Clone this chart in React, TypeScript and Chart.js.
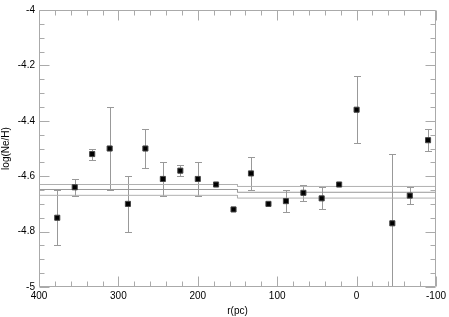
import React, { useEffect, useRef } from "react";
import { Chart, registerables } from "chart.js";

Chart.register(...registerables);

const rValues = [377, 355, 333, 311, 288, 266, 244, 222, 200, 177, 155, 133, 111, 89, 67, 44, 22, 0, -45, -67, -90];
const logValues = [-4.75, -4.64, -4.52, -4.5, -4.7, -4.5, -4.61, -4.58, -4.61, -4.63, -4.72, -4.59, -4.7, -4.69, -4.66, -4.68, -4.63, -4.36, -4.77, -4.67, -4.47];
const logErrors = [0.1, 0.03, 0.02, 0.15, 0.1, 0.07, 0.06, 0.02, 0.06, 0, 0, 0.06, 0, 0.04, 0.03, 0.04, 0, 0.12, 0.25, 0.03, 0.04];

const fitX = [400, 150, 150, -100];
const fitMid = [-4.648, -4.648, -4.658, -4.658];
const fitUpper = [-4.63, -4.63, -4.637, -4.637];
const fitLower = [-4.669, -4.669, -4.679, -4.679];

const xMajorTicks = [400, 300, 200, 100, 0, -100];
const xMinorStep = 20;
const yMajorTicks = [-5, -4.8, -4.6, -4.4, -4.2, -4];
const yMinorStep = 0.05;

const AXIS_COLOR = "#aaaaaa";
const FONT = "'Liberation Sans', Arial, sans-serif";

const frameAndErrors = {
  id: "frameAndErrors",
  beforeDatasetsDraw(chart: any) {
    const { ctx, chartArea: a, scales } = chart;
    const xs = scales.x;
    const ys = scales.y;
    ctx.save();
    ctx.beginPath();
    ctx.rect(a.left, a.top, a.right - a.left, a.bottom - a.top);
    ctx.clip();
    ctx.strokeStyle = "#999999";
    ctx.lineWidth = 1;
    for (let i = 0; i < rValues.length; i++) {
      const e = logErrors[i];
      if (!e) continue;
      const px = Math.round(xs.getPixelForValue(rValues[i])) + 0.5;
      const yt = Math.round(ys.getPixelForValue(logValues[i] + e)) + 0.5;
      const yb = Math.round(ys.getPixelForValue(logValues[i] - e)) + 0.5;
      ctx.beginPath();
      ctx.moveTo(px, yt);
      ctx.lineTo(px, yb);
      ctx.moveTo(px - 3.5, yt);
      ctx.lineTo(px + 3.5, yt);
      ctx.moveTo(px - 3.5, yb);
      ctx.lineTo(px + 3.5, yb);
      ctx.stroke();
    }
    ctx.restore();
  },
  afterDraw(chart: any) {
    const { ctx, chartArea: a, scales } = chart;
    const xs = scales.x;
    const ys = scales.y;
    ctx.save();
    ctx.strokeStyle = AXIS_COLOR;
    ctx.lineWidth = 1;
    const L = Math.round(a.left) + 0.5;
    const R = Math.round(a.right) - 0.5;
    const T = Math.round(a.top) + 0.5;
    const B = Math.round(a.bottom) - 0.5;
    ctx.beginPath();
    ctx.rect(L, T, R - L, B - T);
    ctx.stroke();
    ctx.beginPath();
    for (let v = -100; v <= 400.0001; v += xMinorStep) {
      const major = xMajorTicks.some((m) => Math.abs(m - v) < 1e-6);
      const len = major ? 10 : 5;
      const px = Math.round(xs.getPixelForValue(v)) + 0.5;
      ctx.moveTo(px, B);
      ctx.lineTo(px, B - len);
      ctx.moveTo(px, T);
      ctx.lineTo(px, T + len);
    }
    for (let v = -5; v <= -3.9999; v += yMinorStep) {
      const major = yMajorTicks.some((m) => Math.abs(m - v) < 1e-6);
      const len = major ? 10 : 5;
      const py = Math.round(ys.getPixelForValue(v)) + 0.5;
      ctx.moveTo(L, py);
      ctx.lineTo(L + len, py);
      ctx.moveTo(R, py);
      ctx.lineTo(R - len, py);
    }
    ctx.stroke();
    ctx.restore();
  },
};

export default function App() {
  const ref = useRef<HTMLCanvasElement>(null);
  useEffect(() => {
    document.body.style.margin = "0";
    const ctx = ref.current!.getContext("2d")!;
    const lineDs = (ys: number[], color: string) => ({
      type: "line" as const,
      data: fitX.map((x, i) => ({ x, y: ys[i] })),
      borderColor: color,
      borderWidth: 1,
      pointRadius: 0,
      fill: false,
      tension: 0,
      order: 2,
    });
    const chart = new Chart(ctx, {
      type: "scatter",
      data: {
        datasets: [
          {
            type: "scatter",
            data: rValues.map((x, i) => ({ x, y: logValues[i] })),
            pointStyle: "rect",
            pointRadius: 3.6,
            backgroundColor: "#000000",
            borderColor: "#444444",
            borderWidth: 1,
            order: 1,
          } as any,
          lineDs(fitUpper, "#b0b0b0"),
          lineDs(fitMid, "#999999"),
          lineDs(fitLower, "#b0b0b0"),
        ],
      },
      options: {
        animation: false,
        responsive: false,
        layout: { padding: { top: 4, right: 10, left: 0, bottom: 0 } },
        plugins: { legend: { display: false }, tooltip: { enabled: false } },
        scales: {
          x: {
            type: "linear",
            reverse: true,
            min: -100,
            max: 400,
            grid: { display: false, drawTicks: false },
            border: { display: false },
            ticks: {
              stepSize: 100,
              padding: 3,
              maxRotation: 0,
              color: "#000",
              font: { family: FONT, size: 10 },
              callback: (v: any) => String(v),
            },
            title: {
              display: true,
              text: "r(pc)",
              color: "#000",
              font: { family: FONT, size: 10 },
              padding: { top: 0, bottom: 0 },
            },
            afterFit: (s: any) => {
              s.height = 30;
            },
          },
          y: {
            type: "linear",
            min: -5,
            max: -4,
            grid: { display: false, drawTicks: false },
            border: { display: false },
            ticks: {
              stepSize: 0.2,
              padding: 4,
              color: "#000",
              font: { family: FONT, size: 10 },
              callback: (v: any) => String(Number(Number(v).toFixed(1))),
            },
            title: {
              display: true,
              text: "log(Ne/H)",
              color: "#000",
              font: { family: FONT, size: 10 },
              padding: { top: 0, bottom: 0 },
            },
            afterFit: (s: any) => {
              s.width = 39;
            },
          },
        },
      },
      plugins: [frameAndErrors],
    });
    return () => chart.destroy();
  }, []);
  return (
    <div style={{ width: 449, height: 317 }}>
      <canvas ref={ref} width={449} height={317} />
    </div>
  );
}
